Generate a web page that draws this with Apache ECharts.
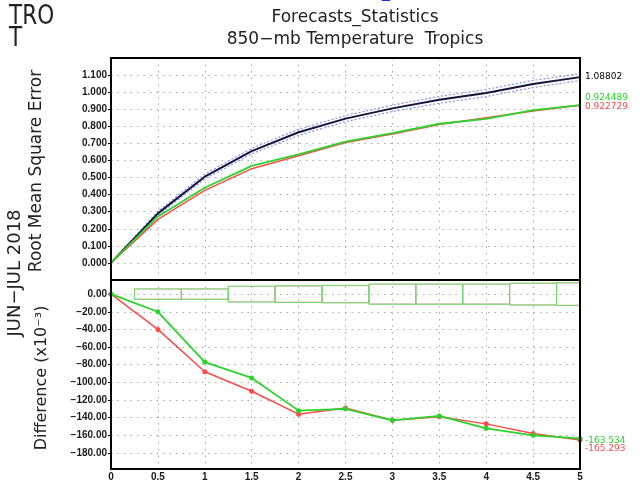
<!DOCTYPE html>
<html><head><meta charset="utf-8">
<script src="https://cdn.jsdelivr.net/npm/echarts@6/dist/echarts.min.js"></script>
<style>html,body{margin:0;padding:0;background:#fff}#c{width:643px;height:482px}</style>
</head><body><div id="c"></div>
<script>
// forecast day
const hours = [0, 0.5, 1, 1.5, 2, 2.5, 3, 3.5, 4, 4.5, 5];
const xTicks = [0, 0.5, 1, 1.5, 2, 2.5, 3, 3.5, 4, 4.5, 5];
const rmseTicks = [0, 0.1, 0.2, 0.3, 0.4, 0.5, 0.6, 0.7, 0.8, 0.9, 1.0, 1.1];
const diffTicks = [0, -20, -40, -60, -80, -100, -120, -140, -160, -180];

// RMSE
const rmseCtl   = [0, 0.290, 0.505, 0.655, 0.765, 0.845, 0.905, 0.955, 0.995, 1.048, 1.08802];
const rmseUpper = [0, 0.303, 0.520, 0.671, 0.783, 0.863, 0.924, 0.975, 1.016, 1.069, 1.108];
const rmseLower = [0, 0.278, 0.491, 0.639, 0.747, 0.827, 0.886, 0.935, 0.974, 1.027, 1.068];
const rmseGreen = [0, 0.272, 0.440, 0.568, 0.635, 0.710, 0.760, 0.815, 0.843, 0.895, 0.924489];
const rmseRed   = [0, 0.255, 0.425, 0.552, 0.628, 0.705, 0.755, 0.810, 0.850, 0.890, 0.922729];

// Difference (x10^-3)
const diffGreen = [0, -20, -77, -95, -132, -130, -143, -138, -152, -160, -163.534];
const diffRed   = [0, -40, -88, -110, -136, -129, -143, -139, -147, -158, -165.293];

// significance boxes (half heights, centred on 0)
const boxCenters = [0.5, 1, 1.5, 2, 2.5, 3, 3.5, 4, 4.5, 5];
const boxGreenHalf = [6, 6, 9, 9.5, 10, 11.5, 11.5, 11.5, 12.5, 13];
const boxRedHalf   = [5.5, 5.5, 8.5, 9, 9.5, 11, 11, 11, 12, 12.5];

const pair = arr => hours.map((h, i) => [h, arr[i]]);
const GREEN = '#2bd42b', RED = '#ff4a4a';
const grid = { color: '#a8a8a8', type: [1.5, 5], width: 1 };
const tickFont = { fontFamily: 'Liberation Sans', fontSize: 10, fontWeight: 'bold', color: '#1a1a1a' };

function boxRender(color) {
  return function (params, api) {
    const c = api.value(0), h = api.value(1);
    const p1 = api.coord([c - 0.25, h]);
    const p2 = api.coord([c + 0.25, -h]);
    const cs = params.coordSys;
    const r = echarts.graphic.clipRectByRect(
      { x: p1[0], y: p1[1], width: p2[0] - p1[0], height: p2[1] - p1[1] },
      { x: cs.x, y: cs.y, width: cs.width, height: cs.height });
    return r && { type: 'rect', shape: r, style: { fill: 'none', stroke: color, lineWidth: 1 } };
  };
}

const endLbl = (color, dy) => ({
  show: true, formatter: p => String(p.value[1]), color: color,
  fontFamily: 'DejaVu Sans', fontSize: 9, distance: 5, offset: [0, dy]
});

const chart = echarts.init(document.getElementById('c'), null, { renderer: 'canvas' });
chart.setOption({
  animation: false,
  backgroundColor: '#fff',
  grid: [
    { left: 111, top: 58, width: 469, height: 222 },
    { left: 111, top: 280, width: 469, height: 189 }
  ],
  xAxis: [
    { gridIndex: 0, type: 'value', min: 0, max: 5,
      axisLine: { show: false }, axisTick: { show: false, customValues: xTicks },
      axisLabel: { show: false, customValues: xTicks },
      splitLine: { show: true, lineStyle: grid } },
    { gridIndex: 1, type: 'value', min: 0, max: 5,
      axisLine: { show: false }, axisTick: { show: false, customValues: xTicks },
      axisLabel: Object.assign({ show: true, margin: 4, customValues: xTicks }, tickFont),
      splitLine: { show: true, lineStyle: grid } }
  ],
  yAxis: [
    { gridIndex: 0, type: 'value', min: -0.1, max: 1.2,
      axisLine: { show: false },
      axisTick: { show: true, inside: false, length: 3, customValues: rmseTicks, lineStyle: { color: '#000' } },
      axisLabel: Object.assign({ margin: 4, customValues: rmseTicks, formatter: v => v.toFixed(3) }, tickFont),
      splitLine: { show: true, lineStyle: grid } },
    { gridIndex: 1, type: 'value', min: -197, max: 16,
      axisLine: { show: false },
      axisTick: { show: true, inside: false, length: 3, customValues: diffTicks, lineStyle: { color: '#000' } },
      axisLabel: Object.assign({ margin: 4, customValues: diffTicks,
        formatter: v => (v < 0 ? '\u2212' + Math.abs(v).toFixed(2) : v.toFixed(2)) }, tickFont),
      splitLine: { show: true, lineStyle: grid } }
  ],
  series: [
    { type: 'line', xAxisIndex: 0, yAxisIndex: 0, data: pair(rmseUpper), symbol: 'none',
      lineStyle: { color: '#8292f5', width: 1.2, type: [2, 2] }, z: 2 },
    { type: 'line', xAxisIndex: 0, yAxisIndex: 0, data: pair(rmseLower), symbol: 'none',
      lineStyle: { color: '#8292f5', width: 1.2, type: [2, 2] }, z: 2 },
    { type: 'line', xAxisIndex: 0, yAxisIndex: 0, data: pair(rmseCtl), symbol: 'none',
      lineStyle: { color: '#14143c', width: 2 }, z: 3, endLabel: endLbl('#000', 0) },
    { type: 'line', xAxisIndex: 0, yAxisIndex: 0, data: pair(rmseRed), symbol: 'none',
      lineStyle: { color: RED, width: 1.5 }, z: 3, endLabel: endLbl(RED, 1) },
    { type: 'line', xAxisIndex: 0, yAxisIndex: 0, data: pair(rmseGreen), symbol: 'none',
      lineStyle: { color: GREEN, width: 1.8 }, z: 4, endLabel: endLbl(GREEN, -7) },

    { type: 'custom', xAxisIndex: 1, yAxisIndex: 1, renderItem: boxRender('#f3b2b2'),
      data: boxCenters.map((c, i) => [c, boxRedHalf[i]]), encode: { x: 0, y: 1 }, z: 2 },
    { type: 'custom', xAxisIndex: 1, yAxisIndex: 1, renderItem: boxRender('#6fd86f'),
      data: boxCenters.map((c, i) => [c, boxGreenHalf[i]]), encode: { x: 0, y: 1 }, z: 2 },
    { type: 'line', xAxisIndex: 1, yAxisIndex: 1, data: pair(diffRed), symbol: 'circle', symbolSize: 5,
      itemStyle: { color: RED }, lineStyle: { color: RED, width: 1.5 }, z: 3, endLabel: endLbl(RED, 9) },
    { type: 'line', xAxisIndex: 1, yAxisIndex: 1, data: pair(diffGreen), symbol: 'circle', symbolSize: 5,
      itemStyle: { color: GREEN }, lineStyle: { color: GREEN, width: 1.8 }, z: 4, endLabel: endLbl(GREEN, 2) }
  ],
  graphic: [
    { type: 'rect', shape: { x: 111, y: 58, width: 469, height: 222 },
      style: { fill: 'none', stroke: '#000', lineWidth: 2 }, z: 100 },
    { type: 'rect', shape: { x: 111, y: 280, width: 469, height: 189 },
      style: { fill: 'none', stroke: '#000', lineWidth: 2 }, z: 100 },
    { type: 'text', x: 9, y: 3, scaleX: 0.8, style: { text: 'TRO', fontFamily: 'DejaVu Sans', fontSize: 27, fill: '#222' } },
    { type: 'text', x: 9, y: 25, scaleX: 0.8, style: { text: 'T', fontFamily: 'DejaVu Sans', fontSize: 27, fill: '#222' } },
    { type: 'text', x: 386, y: -16, style: { text: 'T', fontFamily: 'DejaVu Serif', fontSize: 22, fontWeight: 'bold', fill: '#1a2fff', textAlign: 'center' } },
    { type: 'text', x: 355, y: 18, style: { text: 'Forecasts_Statistics', fontFamily: 'DejaVu Sans', fontSize: 17, fill: '#222', textAlign: 'center', textVerticalAlign: 'middle' } },
    { type: 'text', x: 355, y: 40, style: { text: '850\u2212mb Temperature  Tropics', fontFamily: 'DejaVu Sans', fontSize: 17, fill: '#222', textAlign: 'center', textVerticalAlign: 'middle' } },
    { type: 'text', x: 37, y: 171, rotation: Math.PI / 2, style: { text: 'Root Mean Square Error', fontFamily: 'DejaVu Sans', fontSize: 17, fill: '#222', textAlign: 'center', textVerticalAlign: 'middle' } },
    { type: 'text', x: 15, y: 273, rotation: Math.PI / 2, style: { text: 'JUN\u2212JUL 2018', fontFamily: 'DejaVu Sans', fontSize: 18, fill: '#222', textAlign: 'center', textVerticalAlign: 'middle' } },
    { type: 'text', x: 42, y: 378, rotation: Math.PI / 2, style: { text: 'Difference (x10\u207B\u00B3)', fontFamily: 'DejaVu Sans', fontSize: 16, fill: '#222', textAlign: 'center', textVerticalAlign: 'middle' } }
  ]
});
</script></body></html>
